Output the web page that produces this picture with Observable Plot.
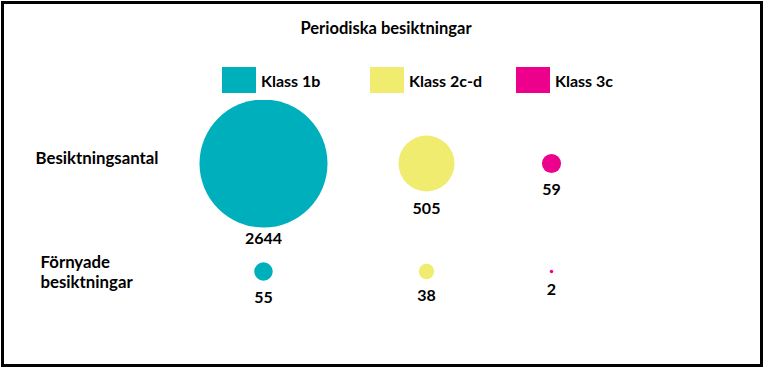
<!DOCTYPE html>
<html><head><meta charset="utf-8">
<script src="https://cdn.jsdelivr.net/npm/d3@7"></script>
<script src="https://cdn.jsdelivr.net/npm/@observablehq/plot@0.6"></script>
<style>
body{margin:0;background:#fff;font-family:Lato,"Open Sans",sans-serif;}
#wrap{position:relative;width:765px;height:369px;overflow:hidden;}
#frame{position:absolute;left:1px;top:1px;width:762px;height:366px;border:3px solid #000;box-sizing:border-box;}
#title{position:absolute;left:0;width:772px;top:18px;text-align:center;font-weight:bold;font-size:16.5px;color:#000;}
.leg{position:absolute;top:67px;height:26px;display:flex;align-items:center;font-weight:bold;font-size:16px;}
.sw{width:34px;height:26px;margin-right:5px;}
#chart{position:absolute;left:0;top:100px;}
</style></head>
<body><div id="wrap"><div id="frame"></div><div id="title"></div><div id="legend"></div><div id="chart"></div></div>
<script>
const title = "Periodiska besiktningar";
const classes = ["Klass 1b", "Klass 2c-d", "Klass 3c"];
const colors = ["#00AFBC", "#F0EC6F", "#EC008C"];
const rows = ["Besiktningsantal", "Förnyade\nbesiktningar"];
const besiktningsantal = [2644, 505, 59];
const fornyade = [55, 38, 2];

document.getElementById("title").textContent = title;
const legLeft = [222, 370, 516];
const legend = document.getElementById("legend");
classes.forEach((c, i) => {
  const d = document.createElement("div");
  d.className = "leg"; d.style.left = legLeft[i] + "px";
  d.innerHTML = `<div class="sw" style="background:${colors[i]}"></div><span>${c}</span>`;
  legend.appendChild(d);
});

const data = [];
classes.forEach((c, i) => {
  data.push({cls: c, idx: i, row: rows[0], value: besiktningsantal[i]});
  data.push({cls: c, idx: i, row: rows[1], value: fornyade[i]});
});
const maxV = d3.max(data, d => d.value);
const rMax = 64;
const rOf = v => rMax * Math.sqrt(v / maxV);

const labelMarks = data.map(d => Plot.text([d], {
  x: "idx", y: "row", text: d => String(d.value),
  dy: rOf(d.value) + (rOf(d.value) > 40 ? 11 : 17),
  fontSize: 16, fontWeight: "bold", fill: "#000"
}));

const plot = Plot.plot({
  width: 765, height: 256,
  margin: 0,
  style: {fontFamily: "Lato, 'Open Sans', sans-serif", background: "transparent"},
  x: {type: "linear", domain: [0, 1, 2], range: [263, 426, 551], axis: null},
  y: {type: "point", domain: rows, range: [63, 171], padding: 0, axis: null},
  r: {type: "sqrt", domain: [0, maxV], range: [0, rMax]},
  color: {domain: classes, range: colors},
  marks: [
    Plot.dot(data, {x: "idx", y: "row", r: "value", fill: "cls", stroke: null}),
    ...labelMarks,
    Plot.text([rows[0]], {y: d => d, frameAnchor: "left", dx: 35, dy: -5, textAnchor: "start", fontSize: 16.8, fontWeight: "bold", fill: "#000"}),
    Plot.text([rows[1]], {y: d => d, frameAnchor: "left", dx: 40, dy: 0, textAnchor: "start", fontSize: 16.8, fontWeight: "bold", fill: "#000", lineHeight: 1.2})
  ]
});
document.getElementById("chart").appendChild(plot);
</script></body></html>
